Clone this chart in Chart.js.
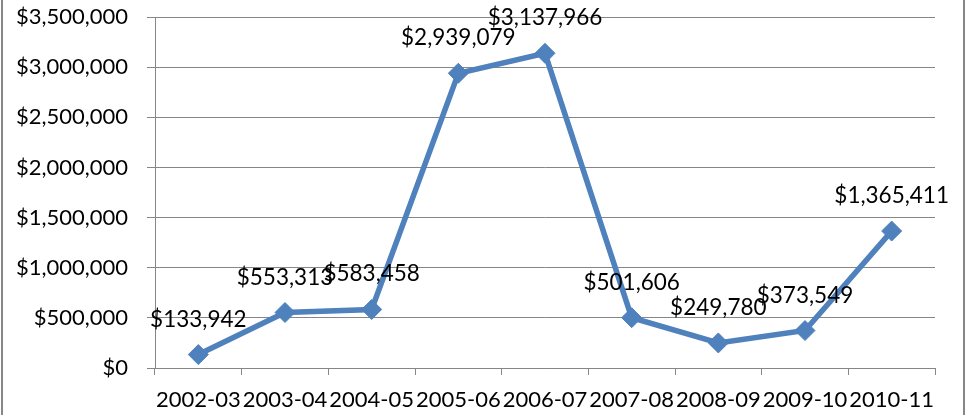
<!DOCTYPE html>
<html>
<head>
<meta charset="utf-8">
<script src="https://cdn.jsdelivr.net/npm/chart.js@4.4.0/dist/chart.umd.min.js"></script>
<style>
  html, body { margin: 0; padding: 0; background: #fff; }
  #wrap { position: relative; width: 971px; height: 415px; }
</style>
</head>
<body>
<div id="wrap"><canvas id="grafica"></canvas></div>
<script>
const categorias = ["2002-03", "2003-04", "2004-05", "2005-06", "2006-07", "2007-08", "2008-09", "2009-10", "2010-11"];
const valores = [133942, 553313, 583458, 2939079, 3137966, 501606, 249780, 373549, 1365411];
const ticksY = [0, 500000, 1000000, 1500000, 2000000, 2500000, 3000000, 3500000];

const FUENTE = "Lato, 'Open Sans', sans-serif";
const GRIS = "#868686";

function dinero(v) {
    return "$" + Number(v).toLocaleString("en-US");
}

// etiquetas encima de cada punto
const etiquetas = {
    id: "etiquetas",
    afterDatasetsDraw(chart) {
        const ctx = chart.ctx;
        const meta = chart.getDatasetMeta(0);
        ctx.save();
        ctx.font = "22.5px " + FUENTE;
        ctx.fillStyle = "#000";
        ctx.textAlign = "center";
        ctx.textBaseline = "alphabetic";
        meta.data.forEach((pt, i) => {
            ctx.fillText(dinero(valores[i]), pt.x, pt.y - 28);
        });
        ctx.restore();
    }
};

// marco exterior del grafico
const marco = {
    id: "marco",
    afterDraw(chart) {
        const ctx = chart.ctx;
        ctx.save();
        ctx.strokeStyle = GRIS;
        ctx.lineWidth = 2;
        ctx.strokeRect(2, -5, 962, 430);
        ctx.restore();
    }
};

const ctx = document.getElementById("grafica").getContext("2d");
new Chart(ctx, {
    type: "line",
    data: {
        labels: categorias,
        datasets: [{
            data: valores,
            borderColor: "#4F81BD",
            backgroundColor: "#4F81BD",
            borderWidth: 5.5,
            pointStyle: "rectRot",
            pointRadius: 10,
            pointBackgroundColor: "#4F81BD",
            pointBorderColor: "#4F81BD",
            pointBorderWidth: 1,
            tension: 0,
            fill: false
        }]
    },
    options: {
        responsive: true,
        maintainAspectRatio: false,
        animation: false,
        layout: { padding: { top: 17, right: 36, left: 0, bottom: 0 } },
        plugins: {
            legend: { display: false },
            tooltip: { enabled: false }
        },
        scales: {
            x: {
                offset: true,
                grid: {
                    offset: true,
                    drawOnChartArea: false,
                    drawTicks: true,
                    tickLength: 7,
                    color: GRIS
                },
                border: { display: true, color: GRIS, width: 1 },
                ticks: {
                    color: "#000",
                    font: { family: FUENTE, size: 22 },
                    padding: 12,
                    autoSkip: false,
                    maxRotation: 0,
                    minRotation: 0
                },
                afterFit(scale) { scale.height = 47; }
            },
            y: {
                min: 0,
                max: 3500000,
                afterBuildTicks(scale) {
                    scale.ticks = ticksY.map(v => ({ value: v }));
                },
                grid: {
                    color: GRIS,
                    drawTicks: true,
                    tickLength: 8
                },
                border: { display: true, color: GRIS, width: 1 },
                ticks: {
                    color: "#000",
                    font: { family: FUENTE, size: 22 },
                    padding: 19,
                    callback: v => dinero(v)
                },
                afterFit(scale) {
                    scale.width = 155;
                    scale.paddingTop = 0;
                    scale.paddingBottom = 0;
                }
            }
        }
    },
    plugins: [etiquetas, marco]
});
</script>
</body>
</html>
